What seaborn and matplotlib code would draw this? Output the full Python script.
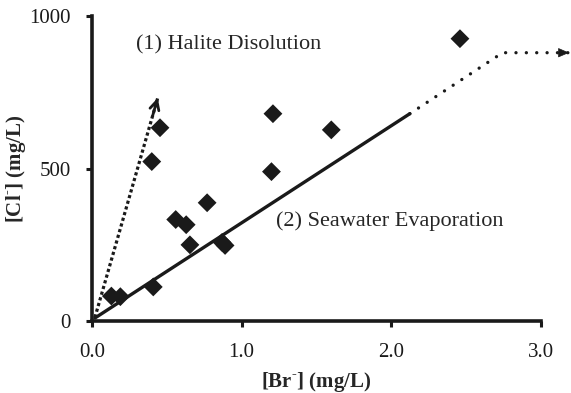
import matplotlib
matplotlib.use("Agg")
import matplotlib.pyplot as plt
import seaborn as sns
import pandas as pd

# Data
br = [0.13, 0.19, 0.41, 0.56, 0.63, 0.655, 0.77, 0.87, 0.89, 0.40, 0.455, 1.20, 1.21, 1.60, 2.46]
cl = [82, 80, 112, 333, 316, 250, 388, 258, 248, 523, 634, 490, 680, 627, 926]

halite_x = [0.02, 0.44]
halite_y = [12, 732]

sea_solid_x = [0.02, 2.125]
sea_solid_y = [10, 680]
sea_dot_x = [2.125, 2.745, 3.19]
sea_dot_y = [680, 880, 880]

x_ticks = [0.0, 1.0, 2.0, 3.0]
x_tick_labels = ["0.0", "1.0", "2.0", "3.0"]
y_ticks = [0, 500, 1000]
y_tick_labels = ["0", "500", "1000"]

sns.set_style("white")
plt.rcParams["font.family"] = ["Liberation Serif", "DejaVu Serif"]
plt.rcParams["mathtext.fontset"] = "custom"
plt.rcParams["mathtext.rm"] = "Liberation Serif:bold"
plt.rcParams["mathtext.bf"] = "Liberation Serif:bold"

fig = plt.figure(figsize=(5.71, 3.93), dpi=100)
ax = fig.add_axes([0.161, 0.183, 0.786, 0.776])

df = pd.DataFrame({"br": br, "cl": cl})
sns.scatterplot(data=df, x="br", y="cl", marker="D", s=92, color="#1a1a1a",
                edgecolor="none", ax=ax, zorder=3)

# Halite dissolution line (dotted) with open arrowhead
sns.lineplot(x=halite_x, y=halite_y, sort=False, color="#1a1a1a", lw=2.3,
             linestyle=(0, (1, 0.85)), ax=ax)
dx = halite_x[1] - halite_x[0]
dy = halite_y[1] - halite_y[0]
ax.annotate("", xy=(halite_x[1], halite_y[1]),
            xytext=(halite_x[1] - dx * 0.08, halite_y[1] - dy * 0.08),
            arrowprops=dict(arrowstyle="->,head_length=0.65,head_width=0.33",
                            color="#1a1a1a", lw=2, shrinkA=0, shrinkB=0))

# Seawater evaporation line
sns.lineplot(x=sea_solid_x, y=sea_solid_y, sort=False, color="#1a1a1a", lw=2.4, ax=ax)
sns.lineplot(x=sea_dot_x, y=sea_dot_y, sort=False, color="#1a1a1a", lw=2.4,
             linestyle=(0, (0.01, 3.1)), dash_capstyle="round", ax=ax)
ax.lines[-1].set_clip_on(False)
ax.annotate("", xy=(sea_dot_x[-1], sea_dot_y[-1]),
            xytext=(sea_dot_x[-1] - 0.08, sea_dot_y[-1]),
            arrowprops=dict(arrowstyle="-|>,head_length=0.7,head_width=0.3",
                            color="#1a1a1a", lw=0.5, shrinkA=0, shrinkB=0),
            annotation_clip=False)

ax.text(0.295, 905, "(1) Halite Disolution", fontsize=16, va="center", ha="left")
ax.text(1.23, 327, "(2) Seawater Evaporation", fontsize=16, va="center", ha="left")

ax.set_xlim(0, 3.0)
ax.set_ylim(0, 1000)
ax.set_xticks(x_ticks)
ax.set_xticklabels(x_tick_labels)
ax.set_yticks(y_ticks)
ax.set_yticklabels(y_tick_labels)

for side in ["top", "right"]:
    ax.spines[side].set_visible(False)
for side in ["left", "bottom"]:
    ax.spines[side].set_linewidth(2.6)
    ax.spines[side].set_color("#1a1a1a")

ax.tick_params(axis="both", direction="out", length=4, width=2.2, colors="#1a1a1a",
               labelsize=15, labelcolor="#1a1a1a")
ax.tick_params(axis="x", bottom=True, pad=12)
ax.tick_params(axis="y", left=True, pad=11)

ax.set_xlabel(r"[Br$^{\text{-}}$] (mg/L)", fontsize=15, fontweight="bold")
ax.set_ylabel(r"[Cl$^{\text{-}}$] (mg/L)", fontsize=15, fontweight="bold")
ax.xaxis.set_label_coords(0.5, -0.16)
ax.yaxis.set_label_coords(-0.142, 0.5)

fig.savefig("out.png", dpi=100)
